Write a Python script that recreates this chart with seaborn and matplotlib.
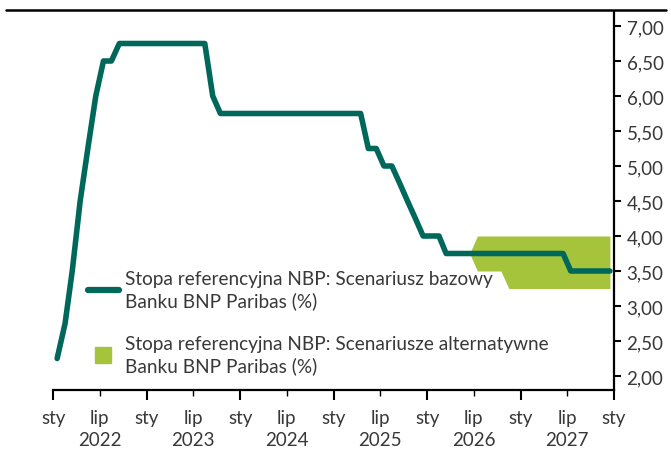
import pandas as pd
import seaborn as sns
import matplotlib.pyplot as plt
import matplotlib.dates as mdates
from matplotlib.lines import Line2D

# NBP reference rate, base scenario (monthly, Jan 2022 - Dec 2027)
rate_2022 = [2.25, 2.75, 3.50, 4.50, 5.25, 6.00, 6.50, 6.50, 6.75, 6.75, 6.75, 6.75]
rate_2023 = [6.75, 6.75, 6.75, 6.75, 6.75, 6.75, 6.75, 6.75, 6.00, 5.75, 5.75, 5.75]
rate_2024 = [5.75] * 12
rate_2025 = [5.75, 5.75, 5.75, 5.75, 5.25, 5.25, 5.00, 5.00, 4.75, 4.50, 4.25, 4.00]
rate_2026 = [4.00, 4.00, 3.75, 3.75, 3.75, 3.75, 3.75, 3.75, 3.75, 3.75, 3.75, 3.75]
rate_2027 = [3.75, 3.75, 3.75, 3.75, 3.75, 3.75, 3.50, 3.50, 3.50, 3.50, 3.50, 3.50]

# alternative scenarios band (Jun 2026 - Dec 2027)
band_upper = [3.75] + [4.00] * 18
band_lower = [3.75, 3.50, 3.50, 3.50, 3.50] + [3.25] * 14

label_base = "Stopa referencyjna NBP: Scenariusz bazowy\nBanku BNP Paribas (%)"
label_alt = "Stopa referencyjna NBP: Scenariusze alternatywne\nBanku BNP Paribas (%)"

line_color = "#00685B"
band_color = "#A5C43B"
text_color = "#383838"
fs = 13.7

rates = rate_2022 + rate_2023 + rate_2024 + rate_2025 + rate_2026 + rate_2027
dates = pd.date_range("2022-01-01", periods=len(rates), freq="MS") + pd.Timedelta(days=15)
df = pd.DataFrame({"data": dates, "stopa": rates})
band_dates = dates[-len(band_upper):]

sns.set_style("white")
plt.rcParams["font.family"] = ["Lato", "DejaVu Sans"]

fig = plt.figure(figsize=(6.71, 4.52), dpi=100)
ax = fig.add_axes([53.3 / 671, 1 - 391 / 452, (614 - 53.3) / 671, (391 - 13) / 452])

ax.fill_between(band_dates, band_lower, band_upper, color=band_color, lw=0, zorder=1)
sns.lineplot(data=df, x="data", y="stopa", color=line_color, lw=4.0, ax=ax, zorder=3)

ax.set_xlim(pd.Timestamp("2022-01-01"), pd.Timestamp("2028-01-01"))
ax.set_ylim(1.8, 7.2)
ax.set_xlabel("")
ax.set_ylabel("")

# y axis on the right
ax.yaxis.tick_right()
ax.set_yticks([2.0, 2.5, 3.0, 3.5, 4.0, 4.5, 5.0, 5.5, 6.0, 6.5, 7.0])
ax.set_yticklabels([f"{v:.2f}".replace(".", ",") for v in ax.get_yticks()])
ax.tick_params(axis="y", which="major", right=True, left=False, length=5, width=1.5,
               color="black", pad=4, labelsize=13.5, labelcolor=text_color)

# x axis: sty (major) / lip + year (minor)
ax.xaxis.set_major_locator(mdates.MonthLocator(bymonth=1))
ax.xaxis.set_major_formatter(mdates.DateFormatter("sty"))
ax.xaxis.set_minor_locator(mdates.MonthLocator(bymonth=7))
ax.xaxis.set_minor_formatter(mdates.DateFormatter("lip\n%Y"))
ax.tick_params(axis="x", which="major", bottom=True, length=7, width=1.5, color="black",
               pad=7, labelsize=13.5, labelcolor=text_color)
ax.tick_params(axis="x", which="minor", bottom=True, length=4, width=1, color="black",
               pad=10, labelsize=13.5, labelcolor=text_color)
for lab in ax.xaxis.get_minorticklabels():
    lab.set_linespacing(1.3)

for side in ["left", "top"]:
    ax.spines[side].set_visible(False)
for side in ["right", "bottom"]:
    ax.spines[side].set_color("black")
    ax.spines[side].set_linewidth(1.6)

# header rule above the chart
fig.add_artist(Line2D([6 / 671, 666 / 671], [1 - 11 / 452, 1 - 11 / 452], color="black", lw=1.8))

handles = [
    Line2D([], [], color=line_color, lw=4.5),
    Line2D([], [], color=band_color, marker="s", markersize=11.5, linestyle="none"),
]
leg = ax.legend(handles, [label_base, label_alt], loc="upper left",
                bbox_to_anchor=(88 / 671, 1 - 271 / 452), bbox_transform=fig.transFigure,
                frameon=False, fontsize=fs, labelcolor=text_color, handlelength=1.62,
                handletextpad=0.35, borderpad=0, borderaxespad=0, labelspacing=1.35)
for t in leg.get_texts():
    t.set_linespacing(1.3)

plt.savefig("out.png", dpi=100)
